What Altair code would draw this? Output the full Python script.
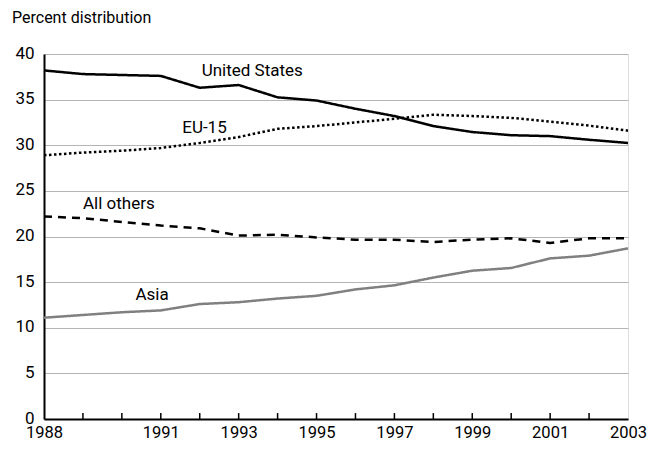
import altair as alt
import pandas as pd

years = list(range(1988, 2004))
us = [38.2, 37.8, 37.7, 37.6, 36.3, 36.6, 35.25, 34.9, 34.0, 33.2, 32.1, 31.45, 31.1, 31.0, 30.6, 30.25]
eu = [28.9, 29.2, 29.4, 29.7, 30.25, 30.9, 31.8, 32.1, 32.5, 32.9, 33.35, 33.2, 33.0, 32.6, 32.15, 31.6]
others = [22.2, 22.0, 21.6, 21.2, 20.9, 20.1, 20.2, 19.9, 19.65, 19.65, 19.4, 19.65, 19.8, 19.3, 19.8, 19.8]
asia = [11.1, 11.4, 11.7, 11.9, 12.6, 12.8, 13.2, 13.5, 14.2, 14.65, 15.5, 16.25, 16.55, 17.6, 17.9, 18.7]

series_names = ["United States", "EU-15", "All others", "Asia"]
series_vals = [us, eu, others, asia]

label_text = ["United States", "EU-15", "All others", "Asia"]
label_x = [1992.05, 1991.55, 1989.0, 1990.35]
label_y = [38.1, 31.9, 23.6, 13.6]

x_label_years = [1988, 1991, 1993, 1995, 1997, 1999, 2001, 2003]
y_ticks = [0, 5, 10, 15, 20, 25, 30, 35, 40]

FONT = "Roboto"

rows = []
for name, vals in zip(series_names, series_vals):
    for yr, v in zip(years, vals):
        rows.append({"year": yr, "value": v, "series": name})
df = pd.DataFrame(rows)

labels_df = pd.DataFrame({"text": label_text, "x": label_x, "y": label_y})
ticks_df = pd.DataFrame({"year": years[1:-1], "y0": [0] * (len(years) - 2), "y1": [0.65] * (len(years) - 2)})

xscale = alt.Scale(domain=[1988, 2003], nice=False, zero=False)
yscale = alt.Scale(domain=[0, 40], nice=False)

x_axis = alt.Axis(title=None, values=x_label_years, format="d",
                  tickSize=0, labelPadding=5, labelFontSize=16.5, labelFont=FONT,
                  labelColor="#000", domainColor="#000", domainWidth=2, grid=False,
                  labelOverlap=False, labelFlush=False)
y_axis = alt.Axis(title=None, values=y_ticks, tickSize=0,
                  labelPadding=10, labelFontSize=17, labelFont=FONT, labelColor="#000",
                  domainColor="#000", domainWidth=2, grid=True, gridColor="#b5b5b5",
                  gridWidth=1.2, labelOverlap=False, labelOffset=-1)

lines = alt.Chart(df).mark_line(strokeWidth=2.5).encode(
    x=alt.X("year:Q", scale=xscale, axis=x_axis),
    y=alt.Y("value:Q", scale=yscale, axis=y_axis),
    color=alt.Color("series:N", scale=alt.Scale(domain=series_names,
                                                range=["#000000", "#000000", "#000000", "#808080"]),
                    legend=None),
    strokeDash=alt.StrokeDash("series:N", scale=alt.Scale(domain=series_names,
                                                          range=[[1, 0], [2.5, 2.5], [8, 6], [1, 0]]),
                              legend=None),
    detail="series:N",
)

ticks = alt.Chart(ticks_df).mark_rule(color="#000", strokeWidth=1.5).encode(
    x=alt.X("year:Q", scale=xscale, axis=x_axis),
    y=alt.Y("y0:Q", scale=yscale, axis=y_axis),
    y2="y1:Q",
)

labels = alt.Chart(labels_df).mark_text(align="left", baseline="middle", fontSize=17, font=FONT,
                                        color="#000").encode(
    x=alt.X("x:Q", scale=xscale, axis=x_axis),
    y=alt.Y("y:Q", scale=yscale, axis=y_axis),
    text="text:N",
)

chart = alt.layer(lines, ticks, labels).properties(
    width=584,
    height=365,
    autosize=alt.AutoSizeParams(type="none"),
    padding={"left": 36, "top": 46, "right": 19, "bottom": 22},
    title=alt.TitleParams("Percent distribution", anchor="start", fontSize=16, font=FONT,
                          fontWeight="normal", color="#000", dx=-32, offset=18, frame="group"),
).configure_view(stroke="#333", strokeWidth=1.5).configure(background="white")

chart.save("out.html", embed_options={"renderer": "svg", "actions": False})
